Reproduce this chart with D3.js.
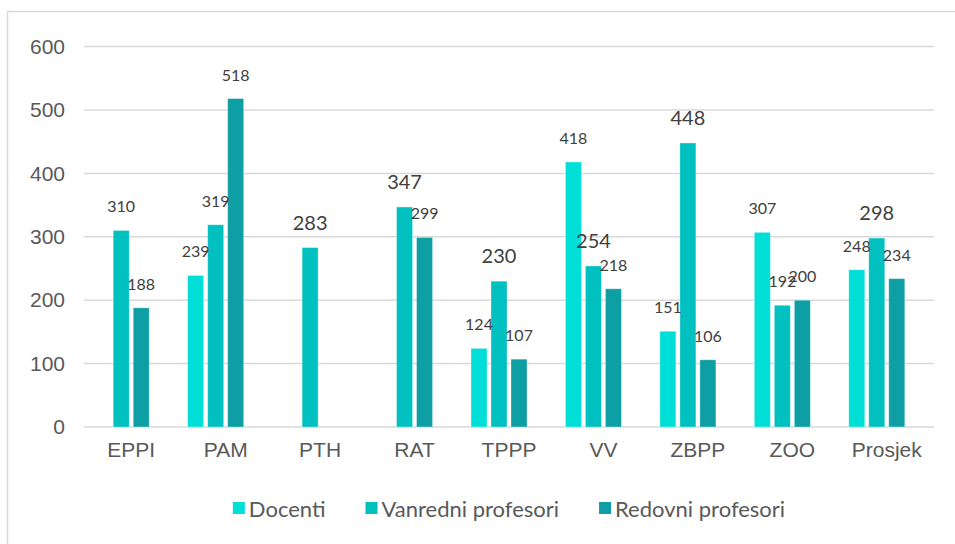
<!DOCTYPE html>
<html>
<head>
<meta charset="utf-8">
<script src="https://cdn.jsdelivr.net/npm/d3@7"></script>
<style>
  body { margin: 0; background: #fff; }
  svg { display: block; font-family: Lato, "Open Sans", sans-serif; }
</style>
</head>
<body>
<div id="chart"></div>
<script>
// Podaci
const kategorije = ["EPPI", "PAM", "PTH", "RAT", "TPPP", "VV", "ZBPP", "ZOO", "Prosjek"];
const serije = ["Docenti", "Vanredni profesori", "Redovni profesori"];
const docenti = [null, 239, null, null, 124, 418, 151, 307, 248];
const vanredni = [310, 319, 283, 347, 230, 254, 448, 192, 298];
const redovni = [188, 518, null, 299, 107, 218, 106, 200, 234];
const yTicks = [0, 100, 200, 300, 400, 500, 600];

// Stil
const boje = ["#00dfd7", "#00c1c0", "#0e9fa5"];
// oznake koje su u originalu ispisane vecim slovima
const veceOznake = ["PTH|1", "RAT|1", "TPPP|1", "VV|1", "ZBPP|1", "Prosjek|1"];

const width = 955, height = 544;
const margin = { top: 46.6, right: 21, bottom: 117, left: 84 };

const svg = d3.select("#chart").append("svg")
  .attr("width", width)
  .attr("height", height);

// okvir grafikona (desno i dolje izlazi iz slike)
svg.append("rect")
  .attr("x", 7.5).attr("y", 11.5)
  .attr("width", 960).attr("height", 560)
  .attr("fill", "none")
  .attr("stroke", "#d9d9d9")
  .attr("stroke-width", 1.5);

const innerW = width - margin.left - margin.right;
const innerH = height - margin.top - margin.bottom;

const g = svg.append("g").attr("transform", `translate(${margin.left},${margin.top})`);

const y = d3.scaleLinear().domain([0, 600]).range([innerH, 0]);
const x0 = d3.scaleBand().domain(kategorije).range([0, innerW]).padding(0);
// cetiri mjesta po kategoriji, cetvrto je prazno
const x1 = d3.scaleBand()
  .domain([0, 1, 2, 3])
  .range([x0.bandwidth() / 2 - 38, x0.bandwidth() / 2 + 38])
  .paddingInner(0.2);

// mreza
g.append("g")
  .selectAll("line")
  .data(yTicks)
  .join("line")
  .attr("x1", 0).attr("x2", innerW)
  .attr("y1", d => y(d)).attr("y2", d => y(d))
  .attr("stroke", "#d9d9d9")
  .attr("stroke-width", 1.5);

// y os
const yAxis = g.append("g")
  .call(d3.axisLeft(y).tickValues(yTicks).tickSize(0).tickPadding(19));
yAxis.select(".domain").remove();
yAxis.selectAll("text")
  .attr("fill", "#595959")
  .style("font-size", "21px");

// x os
const xAxis = g.append("g")
  .attr("transform", `translate(0,${innerH})`)
  .call(d3.axisBottom(x0).tickSize(0).tickPadding(15));
xAxis.select(".domain").remove();
xAxis.selectAll("text")
  .attr("fill", "#595959")
  .style("font-size", "21px");

// stupci
const vrijednosti = [docenti, vanredni, redovni];
const podaci = [];
kategorije.forEach((kat, i) => {
  vrijednosti.forEach((niz, s) => {
    if (niz[i] != null) podaci.push({ kat: kat, s: s, v: niz[i] });
  });
});

const grupa = g.append("g");
grupa.selectAll("rect")
  .data(podaci)
  .join("rect")
  .attr("x", d => x0(d.kat) + x1(d.s))
  .attr("y", d => y(d.v))
  .attr("width", x1.bandwidth())
  .attr("height", d => innerH - y(d.v))
  .attr("fill", d => boje[d.s])
  .attr("stroke", "#ffffff")
  .attr("stroke-opacity", 0.4)
  .attr("stroke-width", 0.8);

// oznake vrijednosti
const jeVeca = d => veceOznake.includes(d.kat + "|" + d.s);
grupa.selectAll("text")
  .data(podaci)
  .join("text")
  .attr("x", d => x0(d.kat) + x1(d.s) + x1.bandwidth() / 2)
  .attr("y", d => y(d.v) - 18)
  .attr("text-anchor", "middle")
  .attr("fill", "#404040")
  .style("font-size", d => jeVeca(d) ? "20px" : "16px")
  .text(d => d.v);

// legenda
const legenda = svg.append("g").attr("transform", "translate(0,517)");
const stavke = legenda.selectAll("g")
  .data(serije)
  .join("g");
stavke.append("rect")
  .attr("y", -15)
  .attr("width", 12).attr("height", 12)
  .attr("fill", (d, i) => boje[i]);
stavke.append("text")
  .attr("x", 16)
  .attr("fill", "#595959")
  .style("font-size", "22px")
  .text(d => d);

// rasporedi stavke legende centrirano
let pomak = 0;
const sirine = [];
stavke.each(function () {
  const w = 16 + this.querySelector("text").getComputedTextLength();
  sirine.push(w);
});
const razmak = 40;
const ukupno = d3.sum(sirine) + razmak * (sirine.length - 1);
const start = margin.left + innerW / 2 - ukupno / 2;
stavke.attr("transform", (d, i) => {
  const t = `translate(${start + pomak},0)`;
  pomak += sirine[i] + razmak;
  return t;
});
</script>
</body>
</html>
